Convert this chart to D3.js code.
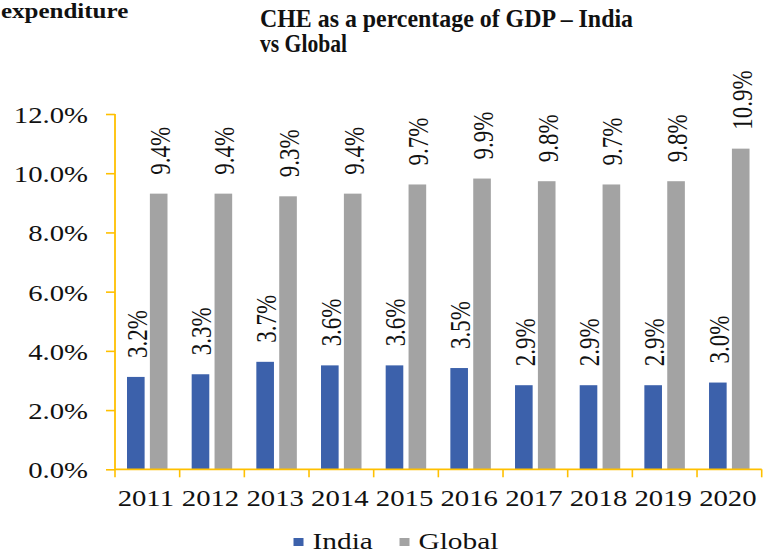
<!DOCTYPE html>
<html>
<head>
<meta charset="utf-8">
<script src="https://cdn.jsdelivr.net/npm/d3@7"></script>
<style>
  html, body { margin: 0; padding: 0; background: #ffffff; }
  svg { display: block; }
  text { font-family: "Liberation Serif", "Times New Roman", serif; fill: #111; }
</style>
</head>
<body>
<svg id="chart" width="764" height="554"></svg>
<script>
// ---- data ----
const years = ["2011","2012","2013","2014","2015","2016","2017","2018","2019","2020"];
const seriesNames = ["India","Global"];
const indiaValues  = [3.12, 3.21, 3.63, 3.51, 3.51, 3.42, 2.84, 2.84, 2.84, 2.93];
const globalValues = [9.31, 9.31, 9.22, 9.31, 9.62, 9.82, 9.73, 9.62, 9.73, 10.83];
const indiaLabels  = ["3.2%","3.3%","3.7%","3.6%","3.6%","3.5%","2.9%","2.9%","2.9%","3.0%"];
const globalLabels = ["9.4%","9.4%","9.3%","9.4%","9.7%","9.9%","9.8%","9.7%","9.8%","10.9%"];
const yTicks = [0, 2, 4, 6, 8, 10, 12];
const titleLines = ["CHE as a percentage of GDP \u2013 India", "vs Global"];
const cutTitle = "expenditure";

(function () {
// ---- layout ----
const svg = d3.select("#chart");
const SX = 1.25;               // horizontal stretch of the original picture
const axisColor = "#FFC000";
const colors = { India: "#3C61AB", Global: "#A3A3A3" };
const mLeft = 115, mRight = 761.7, mTop = 114, mBottom = 469.3;

const x0 = d3.scaleBand().domain(years).range([mLeft, mRight]).paddingInner(0).paddingOuter(0);
const x1 = d3.scaleBand().domain(seriesNames).range([12, 52.5]).paddingInner(0.23).paddingOuter(0);
const y = d3.scaleLinear().domain([0, 12]).range([mBottom, mTop]);

const table = years.map((yr, i) => ({
  year: yr,
  items: [
    { key: "India", value: indiaValues[i], label: indiaLabels[i] },
    { key: "Global", value: globalValues[i], label: globalLabels[i] }
  ]
}));

// ---- titles ----
svg.append("text")
  .attr("x", 260).attr("y", 27)
  .attr("font-size", 25).attr("font-weight", "bold")
  .attr("textLength", 373).attr("lengthAdjust", "spacingAndGlyphs")
  .text(titleLines[0]);
svg.append("text")
  .attr("x", 260).attr("y", 52)
  .attr("font-size", 25).attr("font-weight", "bold")
  .attr("textLength", 87).attr("lengthAdjust", "spacingAndGlyphs")
  .text(titleLines[1]);
svg.append("text")
  .attr("transform", `translate(1,18) scale(${SX},1)`)
  .attr("text-anchor", "start")
  .attr("font-size", 20).attr("font-weight", "bold")
  .text(cutTitle);

// ---- bars ----
const groups = svg.append("g").selectAll("g.grp")
  .data(table).join("g")
  .attr("class", "grp")
  .attr("transform", d => `translate(${x0(d.year)},0)`);

groups.selectAll("rect")
  .data(d => d.items).join("rect")
  .attr("x", d => x1(d.key))
  .attr("width", x1.bandwidth())
  .attr("y", d => y(d.value))
  .attr("height", d => y(0) - y(d.value))
  .attr("fill", d => colors[d.key]);

groups.selectAll("text.lbl")
  .data(d => d.items).join("text")
  .attr("class", "lbl")
  .attr("font-size", 23)
  .attr("text-anchor", "start")
  .attr("transform", d => `translate(${x1(d.key) + x1.bandwidth() / 2 + 11},${y(d.value) - 19}) scale(${SX},1) rotate(-90)`)
  .text(d => d.label);

// ---- y axis ----
const yAxisG = svg.append("g").attr("transform", `translate(${mLeft},0)`);
yAxisG.call(d3.axisLeft(y).tickValues(yTicks).tickSize(9).tickPadding(0).tickFormat(() => ""));
yAxisG.select(".domain").remove();
yAxisG.selectAll(".tick line").attr("stroke", axisColor).attr("stroke-width", 1.6);
yAxisG.append("line")
  .attr("x1", 0).attr("x2", 0).attr("y1", y(12)).attr("y2", y(0))
  .attr("stroke", axisColor).attr("stroke-width", 1.8);
yAxisG.selectAll(".tick").append("text")
  .attr("font-size", 23)
  .attr("text-anchor", "end")
  .attr("fill", "#111")
  .attr("transform", `translate(-27,8.5) scale(${SX},1)`)
  .text(d => d3.format(".1f")(d) + "%");

// ---- x axis ----
const xAxisG = svg.append("g").attr("transform", `translate(0,${mBottom})`);
xAxisG.append("line")
  .attr("x1", mLeft).attr("x2", mRight).attr("y1", 0).attr("y2", 0)
  .attr("stroke", axisColor).attr("stroke-width", 1.8);
const boundaries = years.map(yr => x0(yr)).concat([x0(years[years.length - 1]) + x0.bandwidth()]);
xAxisG.selectAll("line.tk")
  .data(boundaries).join("line")
  .attr("class", "tk")
  .attr("x1", d => d).attr("x2", d => d).attr("y1", 0).attr("y2", 8)
  .attr("stroke", axisColor).attr("stroke-width", 1.6);
xAxisG.selectAll("text.yr")
  .data(years).join("text")
  .attr("class", "yr")
  .attr("font-size", 23)
  .attr("text-anchor", "middle")
  .attr("transform", d => `translate(${x0(d) + x0.bandwidth() / 2 - 1.5},37) scale(${SX},1)`)
  .text(d => d);

// ---- legend ----
const legendPos = { India: 293.5, Global: 399.5 };
const lg = svg.append("g").selectAll("g.lg")
  .data(seriesNames).join("g")
  .attr("class", "lg")
  .attr("transform", d => `translate(${legendPos[d]},538)`);
lg.append("rect").attr("width", 10).attr("height", 8).attr("fill", d => colors[d]);
lg.append("text")
  .attr("font-size", 23.5)
  .attr("transform", `translate(19,11) scale(${SX},1)`)
  .text(d => d);
})();
</script>
</body>
</html>
